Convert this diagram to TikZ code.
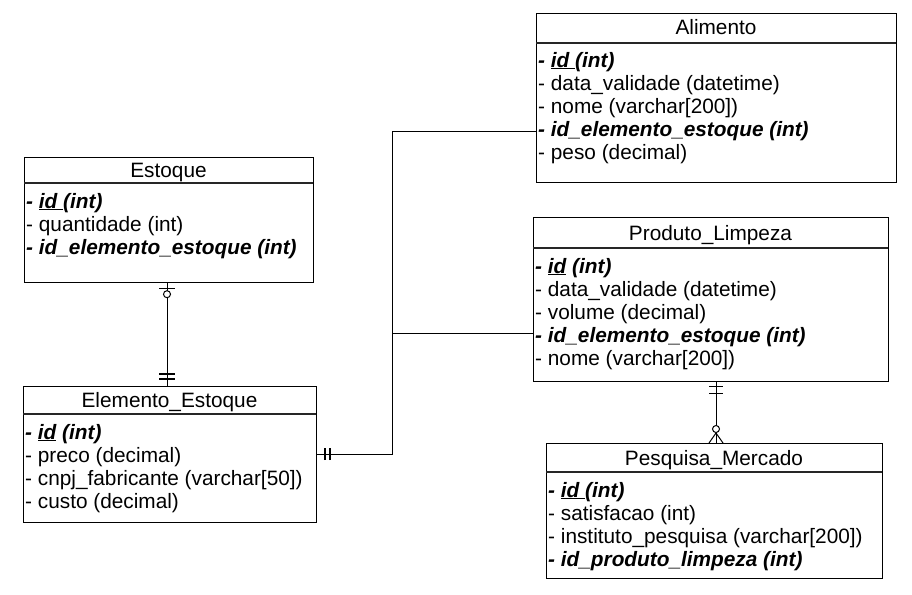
\documentclass[tikz,border=0pt]{standalone}
\usepackage{fontspec}
\setmainfont{Liberation Sans}
\newcommand\ulid[1]{\setbox0\hbox{#1}\rlap{\rule[-2.4pt]{\wd0}{1.1pt}}\box0\relax}
\newcommand\bi[1]{\textbf{\textit{#1}}}
\begin{document}
\begin{tikzpicture}[x=1pt,y=-1pt,
  tbl/.style={draw=black,line width=1.2pt,inner sep=0pt,anchor=north west,fill=white},
  sepline/.style={draw=black!85,line width=1.2pt},
  hdr/.style={anchor=base,inner sep=0pt,font=\fontsize{20.8}{22}\selectfont},
  row/.style={anchor=base west,inner sep=0pt,font=\fontsize{20.8}{22}\selectfont},
  conn/.style={draw=black,line width=1pt},
  bar/.style={draw=black,line width=1.2pt},
  thickbar/.style={draw=black,line width=1.6pt}]
\useasboundingbox[fill=white] (0,0) rectangle (912,594);

% ---------- Estoque ----------
\node[tbl,minimum width=289pt,minimum height=125pt] (est) at (24,157) {};
\draw[sepline] (24,183) -- (313,183);
\node[hdr] (estT) at (168.5,177) {Estoque};
\node[row] (est1) at (26,208) {\bi{- \ulid{id\ }(int)}};
\node[row] (est2) at (26,231) {- quantidade (int)};
\node[row] (est3) at (26,254) {\bi{- id\_elemento\_estoque (int)}};

% ---------- Elemento_Estoque ----------
\node[tbl,minimum width=293pt,minimum height=136pt] (ele) at (23,386) {};
\draw[sepline] (23,414) -- (316,414);
\node[hdr] (eleT) at (169.5,407) {Elemento\_Estoque};
\node[row] (ele1) at (25,439) {\bi{- \ulid{id} (int)}};
\node[row] (ele2) at (25,462) {- preco (decimal)};
\node[row] (ele3) at (25,485) {- cnpj\_fabricante (varchar[50])};
\node[row] (ele4) at (25,508) {- custo (decimal)};

% ---------- Alimento ----------
\node[tbl,minimum width=360pt,minimum height=169pt] (ali) at (536,13) {};
\draw[sepline] (536,43) -- (896,43);
\node[hdr] (aliT) at (716,35) {Alimento};
\node[row] (ali1) at (538,67) {\bi{- \ulid{id\ }(int)}};
\node[row] (ali2) at (538,90) {- data\_validade (datetime)};
\node[row] (ali3) at (538,113) {- nome (varchar[200])};
\node[row] (ali4) at (538,136) {\bi{- id\_elemento\_estoque (int)}};
\node[row] (ali5) at (538,159) {- peso (decimal)};

% ---------- Produto_Limpeza ----------
\node[tbl,minimum width=355pt,minimum height=164pt] (pro) at (533,217) {};
\draw[sepline] (533,248) -- (888,248);
\node[hdr] (proT) at (710.5,240) {Produto\_Limpeza};
\node[row] (pro1) at (535,273) {\bi{- \ulid{id} (int)}};
\node[row] (pro2) at (535,296) {- data\_validade (datetime)};
\node[row] (pro3) at (535,319) {- volume (decimal)};
\node[row] (pro4) at (535,342) {\bi{- id\_elemento\_estoque (int)}};
\node[row] (pro5) at (535,365) {- nome (varchar[200])};

% ---------- Pesquisa_Mercado ----------
\node[tbl,minimum width=336pt,minimum height=135pt] (pes) at (546,443) {};
\draw[sepline] (546,472) -- (882,472);
\node[hdr] (pesT) at (714,465) {Pesquisa\_Mercado};
\node[row] (pes1) at (548,497) {\bi{- \ulid{id\ }(int)}};
\node[row] (pes2) at (548,520) {- satisfacao (int)};
\node[row] (pes3) at (548,543) {- instituto\_pesquisa (varchar[200])};
\node[row] (pes4) at (548,566) {\bi{- id\_produto\_limpeza (int)}};

% ---------- connector points ----------
\coordinate (eA) at ([xshift=143pt]est.south west);
\coordinate (eB) at ([xshift=144pt]ele.north west);
\coordinate (trunk) at (392,454);
\coordinate (tAli) at (392,131);
\coordinate (tPro) at (392,333);
\coordinate (pA) at ([xshift=183pt]pro.south west);
\coordinate (pB) at ([xshift=170pt]pes.north west);

% Estoque -- Elemento_Estoque (zero-or-one to one-and-only-one)
\draw[conn] (eA) -- (eA |- eB);
\draw[bar] ([xshift=-8pt,yshift=-5pt]eA) -- ([xshift=8pt,yshift=-5pt]eA);
\draw[conn,fill=white] ([yshift=-11pt]eA) circle (3.5pt);
\draw[bar] ([xshift=-8pt,yshift=12pt]eB) -- ([xshift=8pt,yshift=12pt]eB);
\draw[bar] ([xshift=-8pt,yshift=7pt]eB) -- ([xshift=8pt,yshift=7pt]eB);

% Elemento_Estoque -- Alimento / Produto_Limpeza
\draw[conn] (ele.east |- trunk) -- (trunk) -- (tAli) -- (ali.west |- tAli);
\draw[conn] (tPro) -- (pro.west |- tPro);
\draw[thickbar] ([xshift=8pt,yshift=-6pt]ele.east |- trunk) -- ([xshift=8pt,yshift=6pt]ele.east |- trunk);
\draw[thickbar] ([xshift=13pt,yshift=-6pt]ele.east |- trunk) -- ([xshift=13pt,yshift=6pt]ele.east |- trunk);

% Produto_Limpeza -- Pesquisa_Mercado (one to zero-or-many)
\draw[conn] (pA) -- (pA |- pB);
\draw[bar] ([xshift=-7pt,yshift=-4pt]pA) -- ([xshift=7pt,yshift=-4pt]pA);
\draw[bar] ([xshift=-7pt,yshift=-11pt]pA) -- ([xshift=7pt,yshift=-11pt]pA);
\draw[conn] ([yshift=10pt]pB) -- ([xshift=-7pt]pB);
\draw[conn] ([yshift=10pt]pB) -- ([xshift=7pt]pB);
\draw[conn,fill=white] ([yshift=14pt]pB) circle (3.5pt);
\end{tikzpicture}
\end{document}
